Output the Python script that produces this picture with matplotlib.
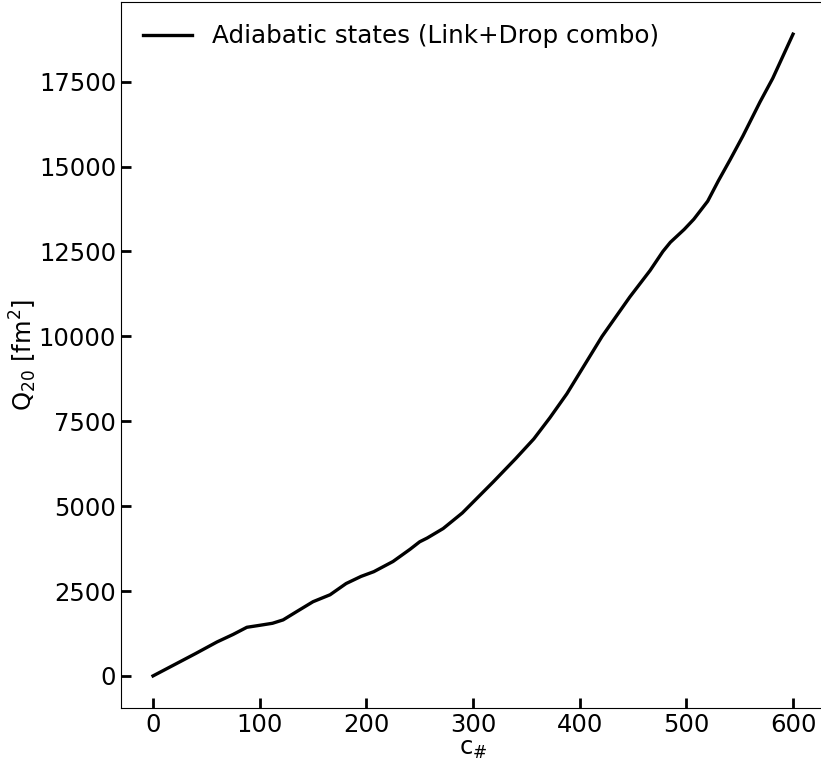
"""
Quadrupole moment along the adiabatic path.
"""

import matplotlib

matplotlib.use("Agg")
import matplotlib.pyplot as plt

# constraint index and Q20 of the adiabatic states
c_num = [0, 20, 40, 60, 75, 88, 100, 112, 122, 135, 150, 166, 181, 195, 207,
         225, 241, 250, 257, 272, 290, 319, 340, 357, 372, 388, 413, 421, 447,
         466, 478, 485, 498, 507, 520, 530, 541, 553, 569, 581, 600]
q20 = [0, 330, 660, 1000, 1220, 1432, 1490, 1550, 1650, 1900, 2185, 2390, 2720,
       2930, 3070, 3370, 3730, 3950, 4060, 4340, 4800, 5715, 6400, 6980, 7600,
       8310, 9590, 10000, 11160, 11940, 12500, 12770, 13150, 13450, 13980,
       14580, 15200, 15900, 16900, 17600, 18900]

fig = plt.figure(figsize=(8.21, 7.64), dpi=100)
ax = fig.add_axes([0.1474, 0.0733, 0.8575, 0.924])

ax.plot(c_num, q20, color="black", linewidth=2.4, solid_joinstyle="round",
        label="Adiabatic states (Link+Drop combo)")

ax.set_xlabel(r"c$_{\#}$", fontsize=17.5, labelpad=0)
ax.set_ylabel(r"Q$_{20}$ [fm$^2$]", fontsize=17.5, labelpad=0)
ax.tick_params(direction="in", length=7, width=2, labelsize=17.5)
ax.set_xticks([0, 100, 200, 300, 400, 500, 600])
ax.set_yticks([0, 2500, 5000, 7500, 10000, 12500, 15000, 17500])
ax.legend(loc="upper left", frameon=False, fontsize=17.7)

fig.savefig("out.png", dpi=100)
